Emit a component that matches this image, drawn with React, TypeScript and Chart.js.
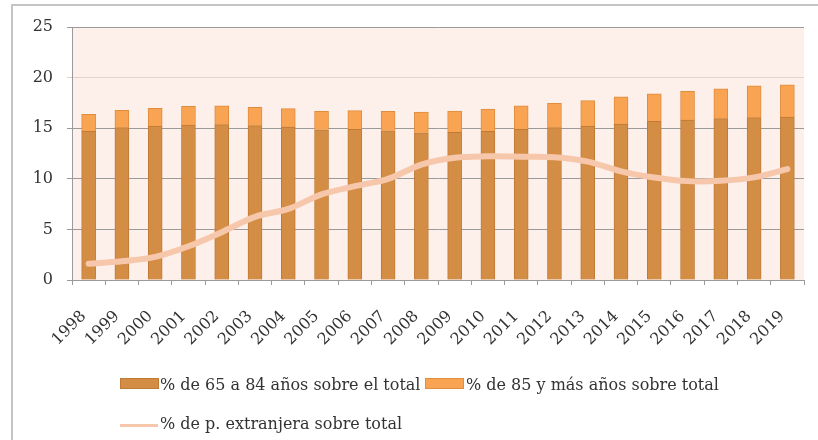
import React, { useEffect, useRef } from "react";
import { Chart, registerables } from "chart.js";

Chart.register(...registerables);

const years = ["1998","1999","2000","2001","2002","2003","2004","2005","2006","2007","2008","2009","2010","2011","2012","2013","2014","2015","2016","2017","2018","2019"];
const pct65to84 = [14.7, 15.05, 15.2, 15.3, 15.35, 15.25, 15.1, 14.85, 14.9, 14.75, 14.55, 14.58, 14.7, 14.88, 15.05, 15.2, 15.4, 15.67, 15.8, 15.94, 16.04, 16.1];
const pct85plus = [1.67, 1.72, 1.76, 1.86, 1.85, 1.81, 1.83, 1.82, 1.83, 1.92, 2.05, 2.12, 2.2, 2.32, 2.41, 2.52, 2.69, 2.72, 2.85, 2.94, 3.14, 3.18];
const pctForeign = [1.6, 1.86, 2.28, 3.33, 4.73, 6.24, 7.02, 8.46, 9.27, 9.99, 11.41, 12.08, 12.22, 12.19, 12.14, 11.7, 10.74, 10.13, 9.77, 9.81, 10.14, 10.96];
const yTicks = [0, 5, 10, 15, 20, 25];

const labels = {
  a: "% de 65 a 84 años sobre el total",
  b: "% de 85 y más años sobre total",
  c: "% de p. extranjera sobre total",
};

const FONT = "'DejaVu Serif', 'Liberation Serif', serif";
const C_LOW = "#D48D45";
const C_LOW_B = "#BF7A36";
const C_HIGH = "#F9A453";
const C_HIGH_B = "#DF8C3E";
const C_LINE = "#F7C7AB";

const bgPlugin = {
  id: "plotBg",
  beforeDraw(chart: any) {
    const { ctx, chartArea } = chart;
    ctx.save();
    ctx.fillStyle = "#FDF0EB";
    ctx.fillRect(chartArea.left, chartArea.top, chartArea.right - chartArea.left, chartArea.bottom - chartArea.top);
    ctx.restore();
  },
};

export default function App() {
  const ref = useRef<HTMLCanvasElement | null>(null);
  useEffect(() => {
    if (!ref.current) return;
    const chart = new Chart(ref.current, {
      type: "bar",
      data: {
        labels: years,
        datasets: [
          {
            type: "line",
            label: labels.c,
            data: pctForeign,
            borderColor: C_LINE,
            backgroundColor: C_LINE,
            borderWidth: 6,
            pointRadius: 0,
            tension: 0.35,
            stack: "line",
            order: 0,
            borderCapStyle: "round",
          } as any,
          {
            label: labels.a,
            data: pct65to84,
            backgroundColor: C_LOW,
            borderColor: C_LOW_B,
            borderWidth: 1,
            stack: "bars",
            order: 1,
            barThickness: 14,
          },
          {
            label: labels.b,
            data: pct85plus,
            backgroundColor: C_HIGH,
            borderColor: C_HIGH_B,
            borderWidth: 1,
            stack: "bars",
            order: 2,
            barThickness: 14,
          },
        ],
      },
      options: {
        animation: false,
        responsive: false,
        maintainAspectRatio: false,
        layout: { padding: { left: 0, right: 14, top: 27, bottom: 0 } },
        plugins: { legend: { display: false }, tooltip: { enabled: false } },
        scales: {
          x: {
            stacked: true,
            grid: { offset: true, drawOnChartArea: false, tickLength: 5, color: "#9a9a9a" },
            border: { color: "#9a9a9a", width: 1 },
            ticks: {
              maxRotation: 45,
              minRotation: 45,
              autoSkip: false,
              padding: 22,
              labelOffset: -5,
              color: "#333",
              font: { family: FONT, size: 16 },
            },
            afterFit(scale: any) {
              scale.height = 160;
              scale.paddingRight = 0;
              scale.paddingLeft = 0;
            },
          },
          y: {
            stacked: true,
            min: 0,
            max: 25,
            afterBuildTicks(scale: any) {
              scale.ticks = yTicks.map((v) => ({ value: v }));
            },
            grid: {
              tickLength: 5,
              color: (ctx: any) => (ctx.tick && ctx.tick.value === 20 ? "#e4d2cb" : "#9a9a9a"),
            },
            border: { color: "#9a9a9a", width: 1 },
            ticks: {
              padding: 14,
              color: "#333",
              font: { family: FONT, size: 16 },
            },
            afterFit(scale: any) {
              scale.width = 72;
            },
          },
        },
      },
      plugins: [bgPlugin],
    });
    return () => chart.destroy();
  }, []);

  const textStyle: React.CSSProperties = {
    position: "absolute",
    fontFamily: FONT,
    fontSize: 16,
    color: "#333",
    whiteSpace: "nowrap",
    lineHeight: "20px",
  };

  return (
    <div style={{ position: "fixed", left: 0, top: 0, width: 818, height: 440, background: "#fff", overflow: "hidden" }}>
      <canvas ref={ref} width={818} height={440} style={{ position: "absolute", left: 0, top: 0, width: 818, height: 440 }} />
      <div style={{ position: "absolute", left: 11, top: 4, width: 820, height: 2, background: "#c4c4c4" }} />
      <div style={{ position: "absolute", left: 11, top: 4, width: 2, height: 440, background: "#c4c4c4" }} />
      <div style={{ position: "absolute", left: 120, top: 378, width: 37, height: 9, background: C_LOW, border: `1px solid ${C_LOW_B}` }} />
      <div style={{ ...textStyle, left: 160, top: 375 }}>{labels.a}</div>
      <div style={{ position: "absolute", left: 425, top: 378, width: 37, height: 9, background: C_HIGH, border: `1px solid ${C_HIGH_B}` }} />
      <div style={{ ...textStyle, left: 466, top: 375 }}>{labels.b}</div>
      <div style={{ position: "absolute", left: 120, top: 424, width: 38, height: 3, background: C_LINE }} />
      <div style={{ ...textStyle, left: 160, top: 414 }}>{labels.c}</div>
    </div>
  );
}
